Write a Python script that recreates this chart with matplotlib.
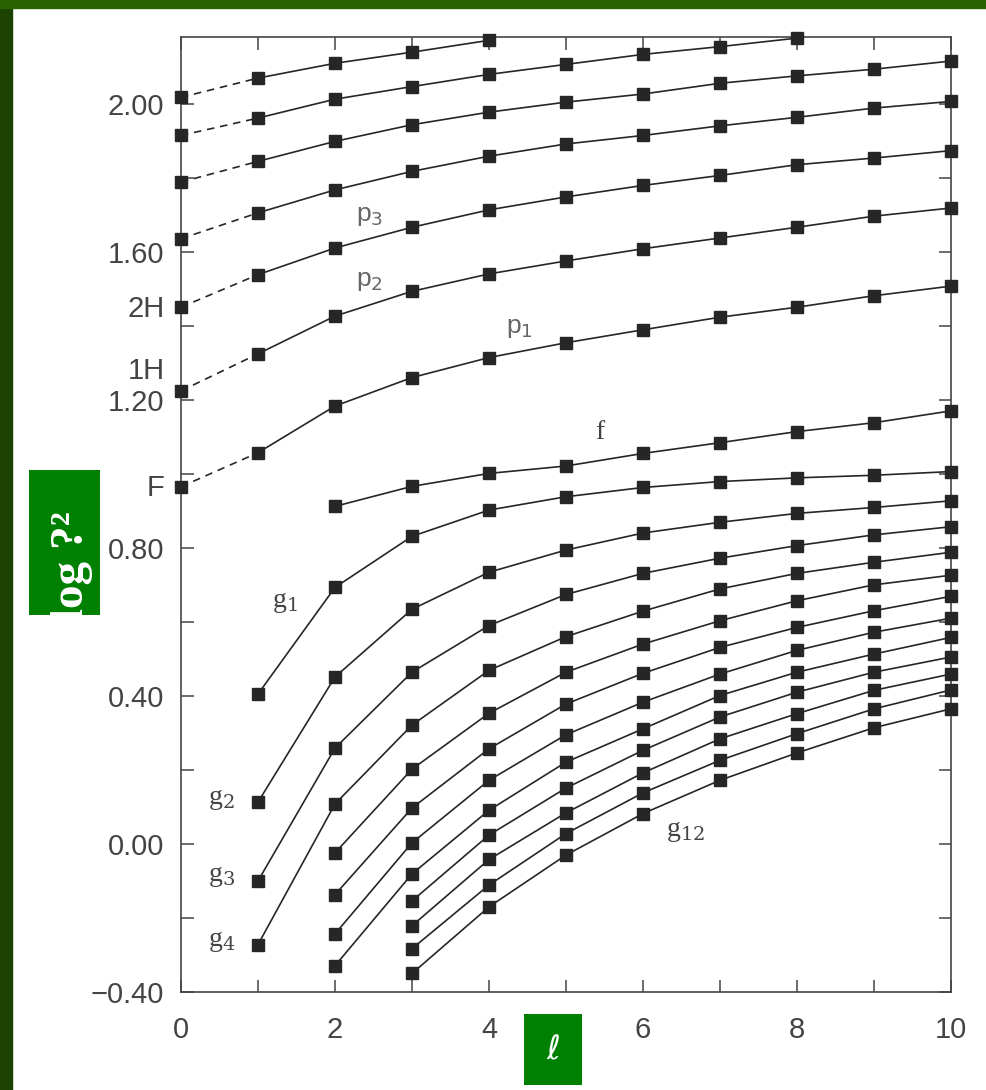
import matplotlib
matplotlib.use("Agg")
import matplotlib.pyplot as plt
from matplotlib.patches import Rectangle
from matplotlib.ticker import MultipleLocator, FuncFormatter
import matplotlib.transforms as mtransforms

# Step 1: data (log nu^2 against degree l)
# p modes start at l = 0 (dashed link from l = 0 to l = 1)
p1 = [0.965, 1.057, 1.183, 1.260, 1.314, 1.354, 1.389, 1.423, 1.450, 1.481, 1.507]
p2 = [1.224, 1.324, 1.426, 1.493, 1.540, 1.575, 1.608, 1.637, 1.666, 1.696, 1.718]
p3 = [1.450, 1.538, 1.610, 1.666, 1.713, 1.748, 1.779, 1.806, 1.835, 1.853, 1.873]
p4 = [1.635, 1.705, 1.767, 1.817, 1.858, 1.891, 1.914, 1.940, 1.963, 1.988, 2.006]
p5 = [1.788, 1.844, 1.898, 1.943, 1.977, 2.004, 2.026, 2.055, 2.075, 2.093, 2.115]
p6 = [1.914, 1.961, 2.012, 2.046, 2.079, 2.106, 2.133, 2.154, 2.177]
p7 = [2.017, 2.069, 2.109, 2.139, 2.171]
p_modes = [p1, p2, p3, p4, p5, p6, p7]

# f and g modes: (first l, values)
f_start, f_mode = 2, [0.912, 0.966, 1.001, 1.021, 1.055, 1.084, 1.114, 1.138, 1.170]
g1 = [0.405, 0.693, 0.831, 0.902, 0.938, 0.963, 0.979, 0.989, 0.996, 1.006]
g2 = [0.113, 0.451, 0.634, 0.734, 0.794, 0.840, 0.869, 0.893, 0.909, 0.927]
g3 = [-0.100, 0.259, 0.464, 0.590, 0.674, 0.731, 0.772, 0.806, 0.835, 0.857]
g4 = [-0.272, 0.108, 0.321, 0.469, 0.560, 0.629, 0.689, 0.731, 0.761, 0.788]
g5 = [-0.024, 0.202, 0.353, 0.464, 0.540, 0.603, 0.657, 0.700, 0.726]
g6 = [-0.137, 0.097, 0.257, 0.378, 0.461, 0.531, 0.585, 0.630, 0.669]
g7 = [-0.243, 0.003, 0.172, 0.295, 0.383, 0.459, 0.523, 0.572, 0.610]
g8 = [-0.329, -0.081, 0.091, 0.221, 0.311, 0.401, 0.464, 0.513, 0.558]
g9 = [-0.154, 0.024, 0.151, 0.253, 0.343, 0.410, 0.464, 0.505]
g10 = [-0.221, -0.042, 0.084, 0.192, 0.284, 0.352, 0.415, 0.459]
g11 = [-0.283, -0.111, 0.028, 0.138, 0.226, 0.298, 0.365, 0.416]
g12 = [-0.350, -0.170, -0.030, 0.082, 0.172, 0.246, 0.314, 0.365]
g_modes = [g1, g2, g3, g4, g5, g6, g7, g8, g9, g10, g11, g12]
g_starts = [1, 1, 1, 1, 2, 2, 2, 2, 3, 3, 3, 3]

# mode labels: (text, l, log nu^2)
p_labels = [("p$_3$", 2.45, 1.696), ("p$_2$", 2.45, 1.521), ("p$_1$", 4.40, 1.394)]
g_labels = [("f", 5.44, 1.111), ("g$_1$", 1.35, 0.653), ("g$_2$", 0.53, 0.119),
            ("g$_3$", 0.53, -0.089), ("g$_4$", 0.53, -0.264), ("g$_{12}$", 6.55, 0.033)]
radial_labels = [("F", 0.962), ("1H", 1.278), ("2H", 1.444)]

# Step 2: figure with the slide background strips
W, H = 987, 1090
fig = plt.figure(figsize=(W / 100, H / 100), dpi=100, facecolor="white")
fig.patches.append(Rectangle((0, 0), 12 / W, 1, transform=fig.transFigure,
                             color="#1c4200", zorder=0))
fig.patches.append(Rectangle((0, 1 - 8 / H), 1, 8 / H, transform=fig.transFigure,
                             color="#2a6200", zorder=0))

ax = fig.add_axes([181 / W, 98 / H, 770 / W, 955 / H])
line_kw = dict(color="#262626", lw=1.2)
mark_kw = dict(marker="s", ms=9.3, color="#262626", ls="none", clip_on=False, zorder=3)

# Step 3: draw the branches
for vals in p_modes:
    ls = list(range(len(vals)))
    ax.plot(ls[:2], vals[:2], ls=(0, (4.5, 3.5)), **line_kw)
    ax.plot(ls[1:], vals[1:], **line_kw)
    ax.plot(ls, vals, **mark_kw)

ls = list(range(f_start, f_start + len(f_mode)))
ax.plot(ls, f_mode, **line_kw)
ax.plot(ls, f_mode, **mark_kw)
for start, vals in zip(g_starts, g_modes):
    ls = list(range(start, start + len(vals)))
    ax.plot(ls, vals, **line_kw)
    ax.plot(ls, vals, **mark_kw)

for txt, x, y in p_labels:
    ax.text(x, y, txt, fontsize=19, color="#666666", ha="center", va="center",
            family="Liberation Sans", math_fontfamily="dejavusans")
for txt, x, y in g_labels:
    ax.text(x, y, txt, fontsize=20, color="#444444", ha="center", va="center",
            family="Liberation Serif", math_fontfamily="dejavuserif")

# Step 4: axes, ticks
ax.set_xlim(0, 10)
ax.set_ylim(-0.40, 2.18)
ax.xaxis.set_major_locator(MultipleLocator(2))
ax.xaxis.set_minor_locator(MultipleLocator(1))
ax.yaxis.set_major_locator(MultipleLocator(0.4))
ax.yaxis.set_minor_locator(MultipleLocator(0.2))
ax.yaxis.set_major_formatter(FuncFormatter(lambda v, pos: f"{v:.2f}".replace("-", "\u2212")))
ax.tick_params(which="both", direction="in", top=True, right=True,
               length=9, width=1.1, color="#444444")
ax.tick_params(axis="x", labelsize=21, labelcolor="#444444", pad=17)
ax.tick_params(axis="y", labelsize=21, labelcolor="#444444", pad=12)
for lab in ax.get_xticklabels() + ax.get_yticklabels():
    lab.set_family("Liberation Sans")
for sp in ax.spines.values():
    sp.set_linewidth(1.2)
    sp.set_color("#444444")

trans = mtransforms.blended_transform_factory(ax.transAxes, ax.transData)
for txt, y in radial_labels:
    ax.text(-0.021, y, txt, transform=trans, ha="right", va="center",
            fontsize=21, color="#444444", family="Liberation Sans")

# Step 5: green label boxes from the slide
ybox = fig.add_axes([29 / W, (H - 615) / H, 71 / W, 145 / H])
ybox.set_facecolor("#008000")
ybox.set_xticks([]); ybox.set_yticks([])
for sp in ybox.spines.values():
    sp.set_visible(False)
ybox.text(0.6, -0.04, "log ?²", rotation=90, ha="center", va="bottom",
          fontsize=34, fontweight="bold", color="white", family="Liberation Serif",
          transform=ybox.transAxes, clip_on=True)

xbox = fig.add_axes([524 / W, (H - 1085) / H, 58 / W, 71 / H])
xbox.set_facecolor("#008000")
xbox.set_xticks([]); xbox.set_yticks([])
for sp in xbox.spines.values():
    sp.set_visible(False)
xbox.text(0.5, 0.5, "ℓ", ha="center", va="center", fontsize=24,
          color="white", family=["DejaVu Sans"], transform=xbox.transAxes)

plt.savefig("out.png", dpi=100)
